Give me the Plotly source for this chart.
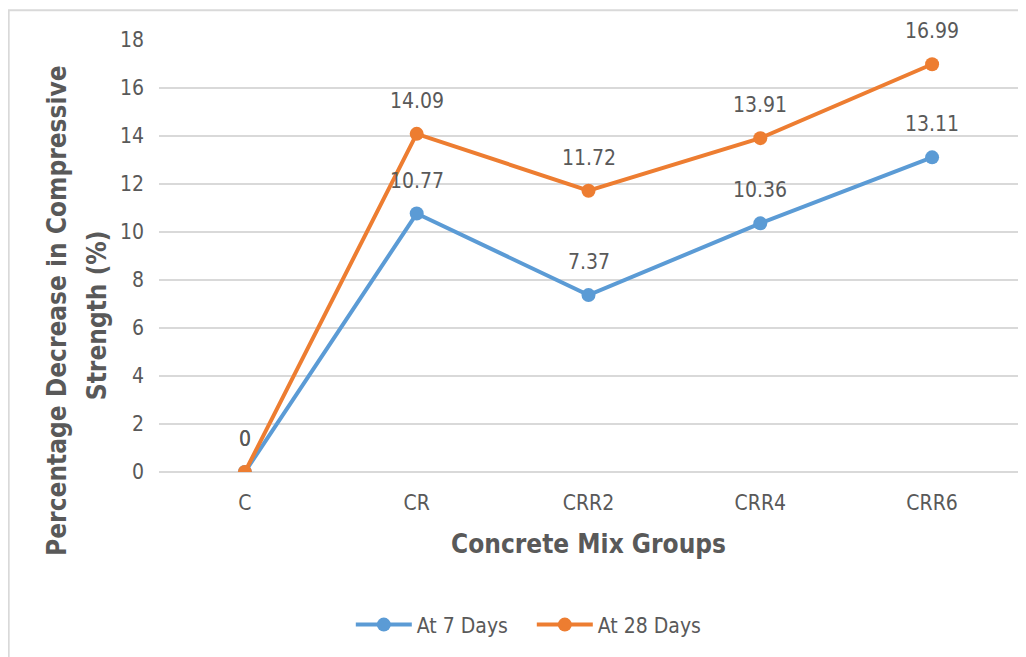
import plotly.graph_objs as go

# data
categories = ["C", "CR", "CRR2", "CRR4", "CRR6"]
days_7 = [0, 10.77, 7.37, 10.36, 13.11]
days_28 = [0, 14.09, 11.72, 13.91, 16.99]
y_ticks = [0, 2, 4, 6, 8, 10, 12, 14, 16, 18]

FONT = "DejaVu Sans Condensed, Roboto, sans-serif"
GREY = "#595959"
GRID = "#D9D9D9"
BLUE = "#5B9BD5"
ORANGE = "#ED7D31"

fig = go.Figure()

for name, values, color in [("At 7 Days", days_7, BLUE), ("At 28 Days", days_28, ORANGE)]:
    fig.add_trace(go.Scatter(
        x=categories,
        y=values,
        name=name,
        mode="lines+markers",
        line=dict(color=color, width=4),
        marker=dict(color=color, size=14),
    ))

# data labels, Excel style (above the points)
annotations = []
for values in (days_7, days_28):
    for cat, v in zip(categories, values):
        annotations.append(dict(
            x=cat, y=v, xref="x", yref="y",
            text="{:g}".format(v),
            showarrow=False, yshift=33,
            font=dict(family=FONT, size=21, color=GREY),
        ))

# y axis title, two lines (Excel spaces them wider than plotly would)
for text, x, y in [("<b>Percentage Decrease in Compressive</b>", -0.1187, 0.373),
                   ("<b>Strength (%)</b>", -0.0722, 0.363)]:
    annotations.append(dict(
        x=x, y=y, xref="paper", yref="paper",
        xanchor="center", yanchor="middle",
        text=text, textangle=-90, showarrow=False,
        font=dict(family=FONT, size=26, color=GREY),
    ))

fig.update_layout(
    width=1026,
    height=657,
    margin=dict(l=151, r=16, t=32, b=193),
    plot_bgcolor="white",
    paper_bgcolor="white",
    font=dict(family=FONT, size=21, color=GREY),
    showlegend=True,
    legend=dict(
        orientation="h",
        x=0.434, y=-0.354,
        xanchor="center", yanchor="middle",
        itemwidth=56,
        entrywidth=110,
        font=dict(family=FONT, size=21, color=GREY),
    ),
    annotations=annotations,
    shapes=[dict(
        type="rect", xref="paper", yref="paper",
        x0=-0.175, x1=1.2, y0=-0.6, y1=1.069,
        line=dict(color=GRID, width=2),
        layer="below",
    )],
)

fig.update_xaxes(
    type="category",
    range=[-0.5, 4.5],
    showgrid=False,
    showline=False,
    ticks="",
    ticklabelstandoff=16,
    title=dict(text="<b>Concrete Mix Groups</b>", font=dict(family=FONT, size=26, color=GREY), standoff=20),
    tickfont=dict(family=FONT, size=21, color=GREY),
)

fig.update_yaxes(
    range=[0, 18],
    tickvals=y_ticks,
    showgrid=True,
    gridcolor=GRID,
    gridwidth=2,
    zeroline=True,
    zerolinecolor=GRID,
    zerolinewidth=2,
    showline=False,
    ticks="",
    ticklabelstandoff=14,
    tickfont=dict(family=FONT, size=21, color=GREY),
)

fig.write_html("out.html")
